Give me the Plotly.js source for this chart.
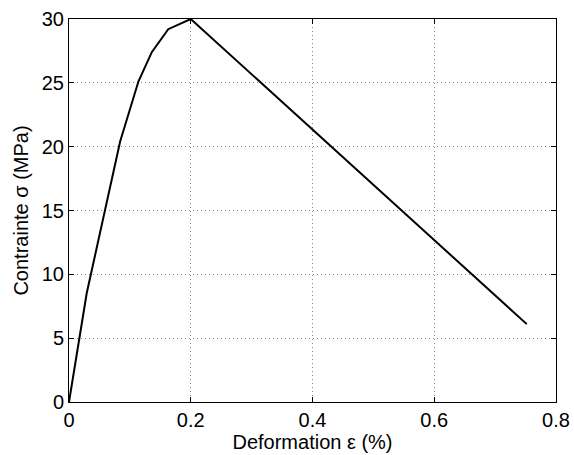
<!DOCTYPE html>
<html>
<head>
<meta charset="utf-8">
<script src="https://cdn.plot.ly/plotly-3.0.1.min.js"></script>
<style>html,body{margin:0;padding:0;background:#fff;}#chart{width:574px;height:455px;}</style>
</head>
<body>
<div id="chart"></div>
<script>
var strain = [0, 0.029, 0.084, 0.114, 0.136, 0.163, 0.2, 0.752];
var stress = [0, 8.5, 20.4, 25.1, 27.4, 29.2, 30, 6.1];
var xTicks = [0, 0.2, 0.4, 0.6, 0.8];
var xTickText = ['0', '0.2', '0.4', '0.6', '0.8'];
var yTicks = [0, 5, 10, 15, 20, 25, 30];

var font = {family: 'Liberation Sans, Arial, sans-serif', size: 20, color: '#000'};
var axisCommon = {
  showline: true, linecolor: '#000', linewidth: 1, mirror: 'ticks',
  ticks: 'inside', ticklen: 5, tickwidth: 1, tickcolor: '#000',
  showgrid: true, gridcolor: '#888888', griddash: '1px,3px', gridwidth: 1,
  zeroline: false, tickfont: font
};
var layout = {
  width: 574, height: 455,
  margin: {l: 69, r: 18, t: 19, b: 53},
  paper_bgcolor: '#fff', plot_bgcolor: '#fff',
  showlegend: false,
  font: font,
  xaxis: Object.assign({}, axisCommon, {
    range: [0, 0.8], tickvals: xTicks, ticktext: xTickText,
    title: {text: 'Deformation ε (%)', font: font, standoff: 0}
  }),
  yaxis: Object.assign({}, axisCommon, {
    range: [0, 30], tickvals: yTicks,
    title: {text: 'Contrainte σ (MPa)', font: font, standoff: 7}
  })
};
Plotly.newPlot('chart', [{
  x: strain, y: stress, type: 'scatter', mode: 'lines',
  line: {color: '#000', width: 2}
}], layout, {staticPlot: true});
</script>
</body>
</html>
